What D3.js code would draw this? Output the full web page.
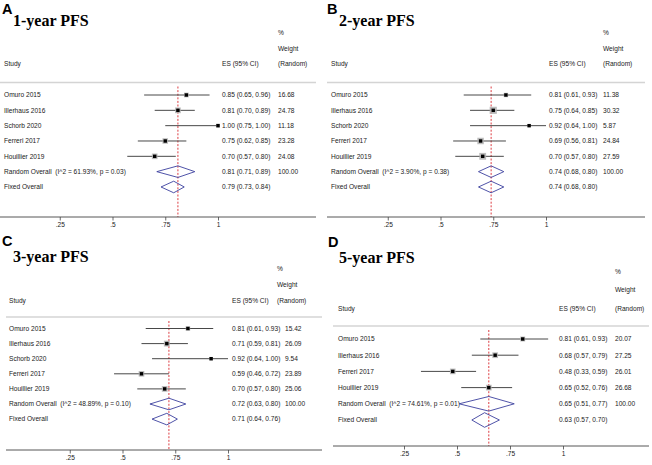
<!DOCTYPE html>
<html>
<head>
<meta charset="utf-8">
<script src="https://cdn.jsdelivr.net/npm/d3@7/dist/d3.min.js"></script>
<style>
html,body{margin:0;padding:0;background:#fff;}
svg{display:block;}
text{font-family:"Liberation Sans",Arial,sans-serif;fill:#1a1a1a;}
</style>
</head>
<body>
<svg id="chart" width="652" height="465"></svg>
<script>
// ---------- DATA ----------
const tickValues = [0.25, 0.5, 0.75, 1];
const tickLabels = [".25", ".5", ".75", "1"];

const studiesA = ["Omuro 2015", "Illerhaus 2016", "Schorb 2020", "Ferreri 2017", "Houillier 2019"];
const esA   = [0.85, 0.81, 1.00, 0.75, 0.70];
const lowA  = [0.65, 0.70, 0.75, 0.62, 0.57];
const highA = [0.96, 0.89, 1.00, 0.85, 0.80];
const weightA = ["16.68", "24.78", "11.18", "23.28", "24.08"];
const randomA = [0.81, 0.71, 0.89];
const fixedA  = [0.79, 0.73, 0.84];
const hetA = ["61.93%", "0.03"];

const studiesB = ["Omuro 2015", "Illerhaus 2016", "Schorb 2020", "Ferreri 2017", "Houillier 2019"];
const esB   = [0.81, 0.75, 0.92, 0.69, 0.70];
const lowB  = [0.61, 0.64, 0.64, 0.56, 0.57];
const highB = [0.93, 0.85, 1.00, 0.81, 0.80];
const weightB = ["11.38", "30.32", "5.87", "24.84", "27.59"];
const randomB = [0.74, 0.68, 0.80];
const fixedB  = [0.74, 0.68, 0.80];
const hetB = ["3.90%", "0.38"];

const studiesC = ["Omuro 2015", "Illerhaus 2016", "Schorb 2020", "Ferreri 2017", "Houillier 2019"];
const esC   = [0.81, 0.71, 0.92, 0.59, 0.70];
const lowC  = [0.61, 0.59, 0.64, 0.46, 0.57];
const highC = [0.93, 0.81, 1.00, 0.72, 0.80];
const weightC = ["15.42", "26.09", "9.54", "23.89", "25.06"];
const randomC = [0.72, 0.63, 0.80];
const fixedC  = [0.71, 0.64, 0.76];
const hetC = ["48.89%", "0.10"];

const studiesD = ["Omuro 2015", "Illerhaus 2016", "Ferreri 2017", "Houillier 2019"];
const esD   = [0.81, 0.68, 0.48, 0.65];
const lowD  = [0.61, 0.57, 0.33, 0.52];
const highD = [0.93, 0.79, 0.59, 0.76];
const weightD = ["20.07", "27.25", "26.01", "26.68"];
const randomD = [0.65, 0.51, 0.77];
const fixedD  = [0.63, 0.57, 0.70];
const hetD = ["74.61%", "0.01"];

// ---------- LAYOUT ----------
const svg = d3.select("#chart");
const fmt = d3.format(".2f");
const FS = 6.6;

function panel(cfg, letter, title, studies, es, low, high, weight, random, fixed, het) {
  const g = svg.append("g");
  const x = d3.scaleLinear().domain([0, 1]).range(cfg.xr);
  const nRows = studies.length + 2;
  const y = d3.scaleLinear().domain([0, nRows - 1]).range([cfg.y0, cfg.y0 + cfg.dy * (nRows - 1)]);

  // letter and title
  g.append("text").attr("x", cfg.lx).attr("y", cfg.letterY)
    .style("font-size", "14.5px").style("font-weight", "bold").style("fill", "#000").text(letter);
  g.append("text").attr("x", cfg.tx).attr("y", cfg.titleY)
    .style("font-family", "'Liberation Serif','Times New Roman',serif")
    .style("font-size", "16px").style("font-weight", "bold").style("fill", "#000").text(title);

  // header
  const hdr = (xx, yy, t) => g.append("text").attr("x", xx).attr("y", yy).attr("dy", "0.35em")
    .style("font-size", FS + "px").text(t);
  hdr(cfg.wxh, cfg.h1, "%");
  hdr(cfg.wxh, cfg.h2, "Weight");
  hdr(cfg.sx, cfg.h3, "Study");
  hdr(cfg.esx, cfg.h3, "ES (95% CI)");
  hdr(cfg.wxh, cfg.h3, "(Random)");

  // separator
  g.append("line").attr("x1", cfg.ax[0]).attr("x2", cfg.ax[1]).attr("y1", cfg.sep).attr("y2", cfg.sep)
    .attr("stroke", "#d4d4d4").attr("stroke-width", 1.3);

  // reference dashed line at random overall
  g.append("line").attr("x1", x(random[0])).attr("x2", x(random[0]))
    .attr("y1", cfg.sep + 4).attr("y2", cfg.axisY)
    .attr("stroke", "#d9262b").attr("stroke-width", 0.9).attr("stroke-dasharray", "2,1.6");

  // studies
  studies.forEach((s, i) => {
    const yy = y(i);
    g.append("text").attr("x", cfg.sx).attr("y", yy).attr("dy", "0.35em").style("font-size", FS + "px").text(s);
    g.append("line").attr("x1", x(low[i])).attr("x2", x(high[i])).attr("y1", yy).attr("y2", yy)
      .attr("stroke", "#333").attr("stroke-width", 0.9);
    const side = Math.sqrt(+weight[i]) * cfg.box;
    g.append("rect").attr("x", x(es[i]) - side / 2).attr("y", yy - side / 2)
      .attr("width", side).attr("height", side).attr("fill", "#b0b0b0").attr("opacity", 0.85);
    g.append("rect").attr("x", x(es[i]) - 1.7).attr("y", yy - 1.7).attr("width", 3.4).attr("height", 3.4).attr("fill", "#000");
    g.append("text").attr("x", cfg.esx).attr("y", yy).attr("dy", "0.35em").style("font-size", FS + "px")
      .text(`${fmt(es[i])} (${fmt(low[i])}, ${fmt(high[i])})`);
    g.append("text").attr("x", cfg.wx).attr("y", yy).attr("dy", "0.35em").style("font-size", FS + "px").text(weight[i]);
  });

  // overall rows
  const diamond = (v, yy, h) => {
    const pts = [[x(v[1]), yy], [x(v[0]), yy - h], [x(v[2]), yy], [x(v[0]), yy + h]];
    g.append("path").attr("d", d3.line()(pts) + "Z").attr("fill", "none")
      .attr("stroke", "#3b3f9e").attr("stroke-width", 0.9);
  };
  const yr = y(studies.length), yf = y(studies.length + 1);
  g.append("text").attr("x", cfg.sx).attr("y", yr).attr("dy", "0.35em").style("font-size", FS + "px")
    .attr("xml:space", "preserve").style("white-space", "pre")
    .text(`Random Overall  (I^2 = ${het[0]}, p = ${het[1]})`);
  diamond(random, yr, cfg.dh);
  g.append("text").attr("x", cfg.esx).attr("y", yr).attr("dy", "0.35em").style("font-size", FS + "px")
    .text(`${fmt(random[0])} (${fmt(random[1])}, ${fmt(random[2])})`);
  g.append("text").attr("x", cfg.wx).attr("y", yr).attr("dy", "0.35em").style("font-size", FS + "px").text("100.00");

  g.append("text").attr("x", cfg.sx).attr("y", yf).attr("dy", "0.35em").style("font-size", FS + "px").text("Fixed Overall");
  diamond(fixed, yf, cfg.dh);
  g.append("text").attr("x", cfg.esx).attr("y", yf).attr("dy", "0.35em").style("font-size", FS + "px")
    .text(`${fmt(fixed[0])} (${fmt(fixed[1])}, ${fmt(fixed[2])})`);

  // axis
  g.append("line").attr("x1", cfg.ax[0]).attr("x2", cfg.ax[1]).attr("y1", cfg.axisY).attr("y2", cfg.axisY)
    .attr("stroke", "#444").attr("stroke-width", 0.9);
  const axis = d3.axisBottom(x).tickValues(tickValues).tickSize(3.5).tickPadding(2)
    .tickFormat((d, i) => tickLabels[i]);
  const ag = g.append("g").attr("transform", `translate(0,${cfg.axisY})`).call(axis);
  ag.select(".domain").remove();
  ag.selectAll(".tick line").attr("stroke", "#444").attr("stroke-width", 0.8);
  ag.selectAll(".tick text").style("font-size", FS + "px").style("font-family", "'Liberation Sans',Arial,sans-serif").attr("fill", "#1a1a1a");
}

panel({xr: [7, 218], y0: 95, dy: 15.33, lx: 2, letterY: 14, tx: 13, titleY: 26,
       h1: 33, h2: 49, h3: 64, sep: 82.5, sx: 4, esx: 222, wx: 278, wxh: 278,
       ax: [0, 316], axisY: 217, box: 1.15, dh: 5.8},
  "A", "1-year PFS", studiesA, esA, lowA, highA, weightA, randomA, fixedA, hetA);

panel({xr: [335, 546], y0: 95, dy: 15.33, lx: 327, letterY: 14, tx: 339, titleY: 26,
       h1: 33, h2: 49, h3: 64, sep: 82.5, sx: 331, esx: 549, wx: 603, wxh: 603,
       ax: [327, 645], axisY: 217, box: 1.3, dh: 5.8},
  "B", "2-year PFS", studiesB, esB, lowB, highB, weightB, randomB, fixedB, hetB);

panel({xr: [17, 228], y0: 328.5, dy: 15.1, lx: 2, letterY: 246, tx: 13, titleY: 262,
       h1: 269, h2: 285, h3: 301, sep: 317, sx: 9, esx: 232, wx: 285, wxh: 277,
       ax: [6, 322], axisY: 450, box: 1.15, dh: 5.8},
  "C", "3-year PFS", studiesC, esC, lowC, highC, weightC, randomC, fixedC, hetC);

panel({xr: [351, 563], y0: 339, dy: 16.2, lx: 328, letterY: 247, tx: 339, titleY: 263,
       h1: 272, h2: 290, h3: 309, sep: 326, sx: 338, esx: 559, wx: 615, wxh: 615,
       ax: [333, 649], axisY: 446, box: 1.1, dh: 7.3},
  "D", "5-year PFS", studiesD, esD, lowD, highD, weightD, randomD, fixedD, hetD);
</script>
</body>
</html>
